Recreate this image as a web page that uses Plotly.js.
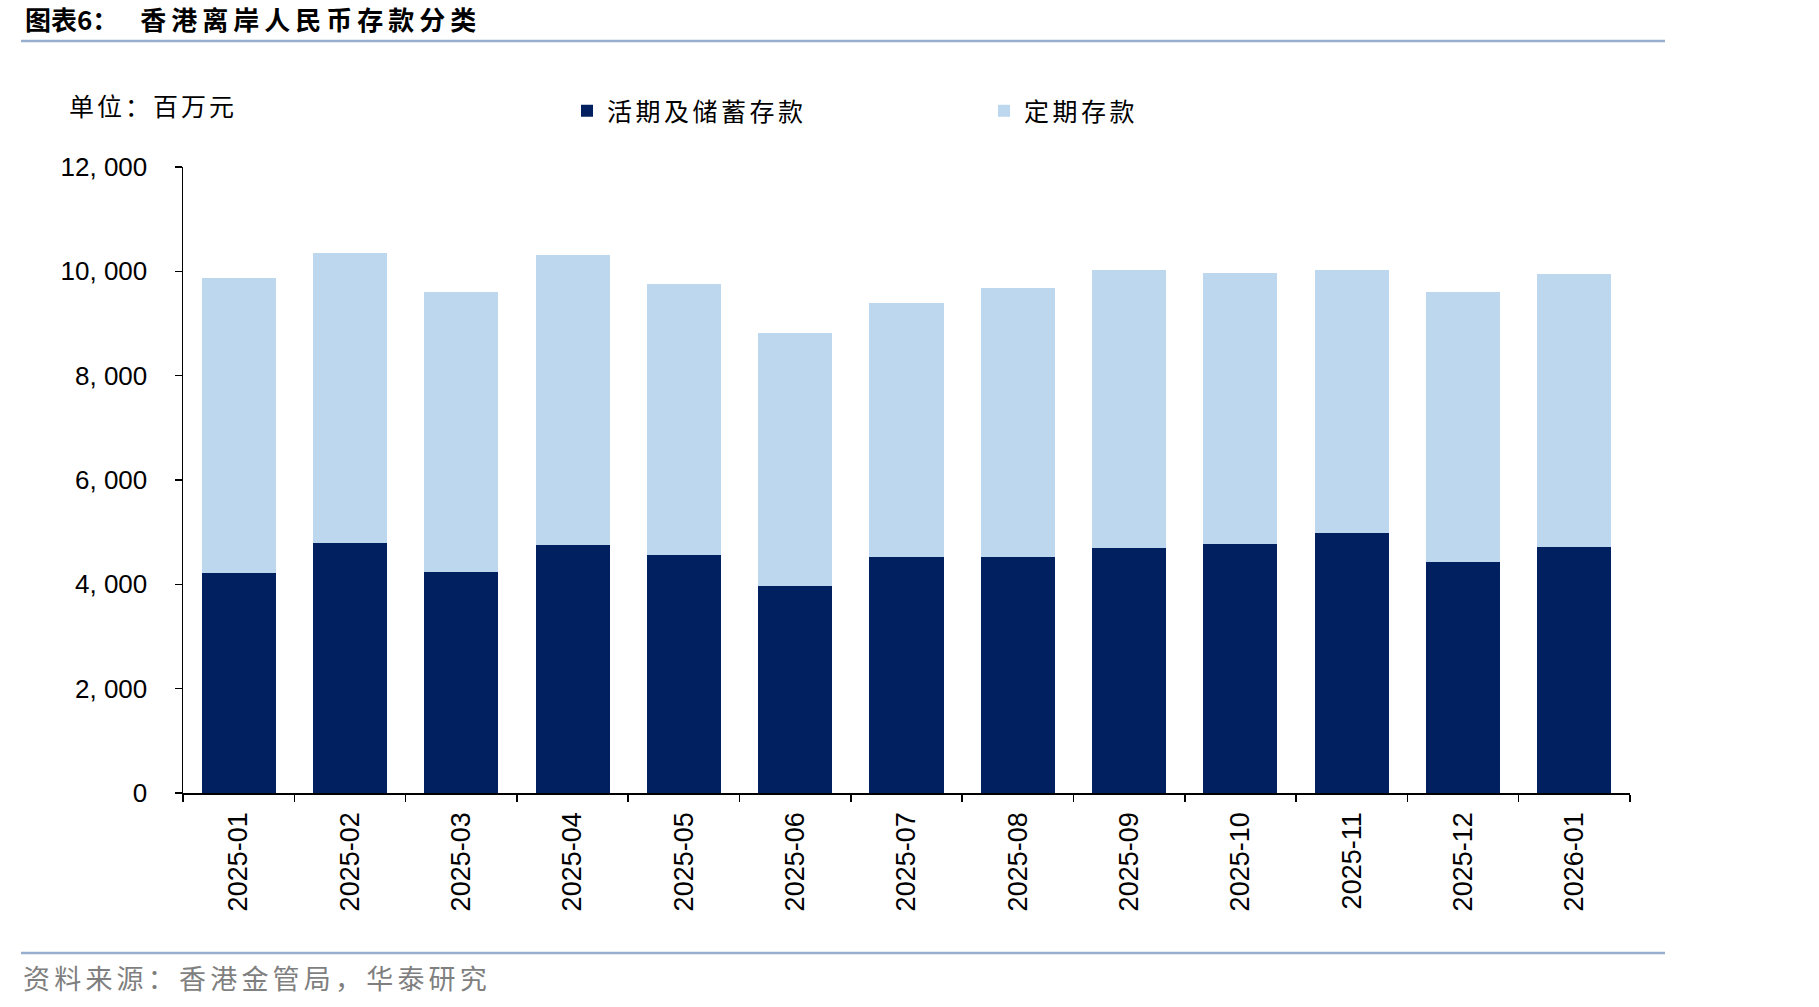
<!DOCTYPE html>
<html>
<head>
<meta charset="utf-8">
<script src="https://cdn.plot.ly/plotly-3.0.1.min.js"></script>
<style>
  html, body { margin: 0; padding: 0; background: #ffffff; }
  #chart { width: 1819px; height: 1007px; }
</style>
</head>
<body>
<div id="chart"></div>
<script>
// ---- data (百万元) ----
const months = ["2025-01","2025-02","2025-03","2025-04","2025-05","2025-06","2025-07",
                "2025-08","2025-09","2025-10","2025-11","2025-12","2026-01"];
const demandSavings = [4210, 4790, 4230, 4760, 4560, 3960, 4530, 4530, 4700, 4770, 4980, 4430, 4720];
const timeDeposits  = [5670, 5570, 5380, 5560, 5200, 4860, 4860, 5160, 5330, 5200, 5050, 5180, 5230];
const seriesNames = ["活期及储蓄存款", "定期存款"];
const yTickVals = [0, 2000, 4000, 6000, 8000, 10000, 12000];
const yTickText = ["0", "2, 000", "4, 000", "6, 000", "8, 000", "10, 000", "12, 000"];
const titleLead = "图表6：";
const titleMain = "香港离岸人民币存款分类";
const unitText = "单位：百万元";
const sourceText = "资料来源：香港金管局，华泰研究";

const CJK = '"Noto Sans CJK SC", "Noto Sans", sans-serif';
const LAT = '"Liberation Sans", Arial, sans-serif';

// plot area geometry (px)
const PL = 183, PR = 1630, PT = 167, PB = 793;
const PW = PR - PL, PH = PB - PT;
const px = v => (v - PL) / PW;
const py = v => (PB - v) / PH;

const spaced = (s, ls) => '<span style="letter-spacing:' + ls + 'px">' + s + '</span>';

const traces = [
  { type: "bar", name: spaced(seriesNames[0], 3.5), x: months, y: demandSavings,
    marker: { color: "#002060", line: { width: 0 } } },
  { type: "bar", name: spaced(seriesNames[1], 3.5), x: months, y: timeDeposits,
    marker: { color: "#BDD7EE", line: { width: 0 } } }
];

const layout = {
  width: 1819, height: 1007,
  paper_bgcolor: "#ffffff", plot_bgcolor: "#ffffff",
  margin: { l: PL, r: 1819 - PR, t: PT, b: 1007 - PB, pad: 0 },
  barmode: "stack",
  bargap: 0.335,
  showlegend: true,
  title: {
    text: titleLead + '<span style="letter-spacing:5px">\u00A0\u00A0' + titleMain + '</span>',
    font: { family: CJK, size: 26, color: "#000000", weight: "bold" },
    xref: "container", yref: "container",
    x: 25 / 1819, xanchor: "left",
    y: 1 - 21 / 1007, yanchor: "middle"
  },
  legend: {
    orientation: "h",
    x: px(567), xanchor: "left",
    y: py(111), yanchor: "middle",
    font: { family: CJK, size: 25, color: "#000000" },
    entrywidth: 372,
    bgcolor: "rgba(0,0,0,0)",
    traceorder: "normal"
  },
  xaxis: {
    type: "category",
    showgrid: false, zeroline: false,
    showline: true, linecolor: "#000000", linewidth: 1.5,
    ticks: "outside", ticklen: 7, tickwidth: 1.5, tickcolor: "#000000",
    tickson: "boundaries",
    tickangle: -90,
    ticklabelstandoff: 7,
    tickfont: { family: LAT, size: 27, color: "#000000" }
  },
  yaxis: {
    range: [0, 12000],
    tickvals: yTickVals, ticktext: yTickText,
    showgrid: false, zeroline: false,
    showline: true, linecolor: "#000000", linewidth: 1.5,
    ticks: "outside", ticklen: 7, tickwidth: 1.5, tickcolor: "#000000",
    ticklabelstandoff: 22,
    tickfont: { family: LAT, size: 26, color: "#000000" }
  },
  annotations: [
    { text: spaced(unitText, 3), xref: "paper", yref: "paper",
      x: px(67), y: py(105), xanchor: "left", yanchor: "middle",
      showarrow: false, font: { family: CJK, size: 25, color: "#000000" } },
    { text: spaced(sourceText, 4.2), xref: "paper", yref: "paper",
      x: px(21), y: py(977), xanchor: "left", yanchor: "middle",
      showarrow: false, font: { family: CJK, size: 27, color: "#7F7F7F" } }
  ],
  shapes: [
    { type: "line", xref: "paper", yref: "paper",
      x0: px(21), x1: px(1665), y0: py(41), y1: py(41),
      line: { color: "#98AECD", width: 2.5 } },
    { type: "line", xref: "paper", yref: "paper",
      x0: px(21), x1: px(1665), y0: py(953), y1: py(953),
      line: { color: "#98AECD", width: 2.5 } }
  ]
};

Plotly.newPlot("chart", traces, layout, { displayModeBar: false, staticPlot: true });
</script>
</body>
</html>
